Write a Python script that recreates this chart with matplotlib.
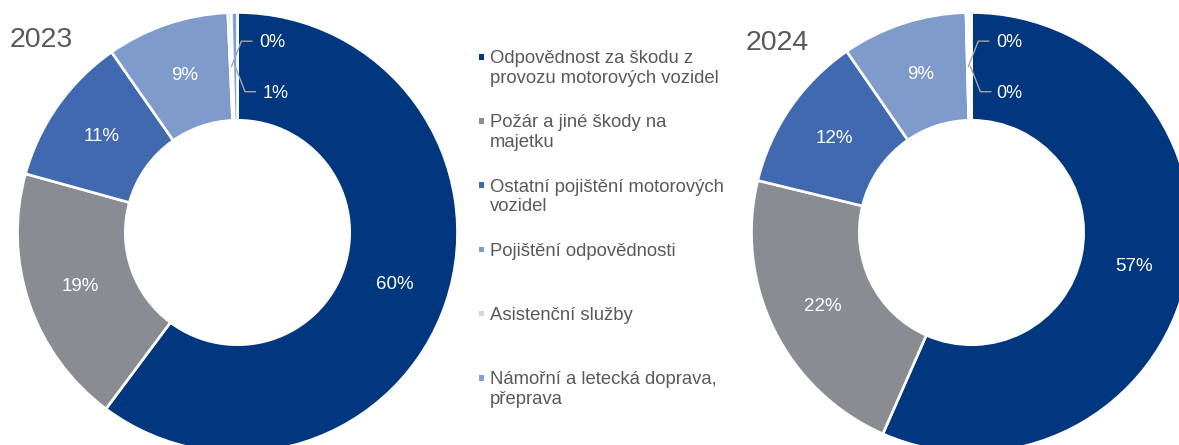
import matplotlib
matplotlib.use("Agg")
import matplotlib.pyplot as plt
import numpy as np
from matplotlib.patches import Rectangle

plt.rcParams['font.family'] = ['Liberation Sans', 'DejaVu Sans']

categories = [
    "Odpovědnost za škodu z\nprovozu motorových vozidel",
    "Požár a jiné škody na\nmajetku",
    "Ostatní pojištění motorových\nvozidel",
    "Pojištění odpovědnosti",
    "Asistenční služby",
    "Námořní a letecká doprava,\npřeprava",
]
colors = ["#00377F", "#898D93", "#4169B0", "#7F9BCC", "#D3D3D3", "#7FA0DA"]

years = ["2023", "2024"]
values_2023 = [60.2, 19.1, 11.0, 9.0, 0.25, 0.45]
values_2024 = [56.6, 22.2, 11.6, 9.2, 0.2, 0.2]
labels_2023 = ["60%", "19%", "11%", "9%", "0%", "1%"]
labels_2024 = ["57%", "22%", "12%", "9%", "0%", "0%"]

W, H = 1179, 445
fig = plt.figure(figsize=(W / 100, H / 100), dpi=100)

LIM = 1.05
R_PX = 220.0


def donut(cx, cy, vals, labs, title, tx, tbase, text_dx_lo):
    size = 2 * LIM * R_PX
    ax = fig.add_axes([(cx - size / 2) / W, (H - cy - size / 2) / H, size / W, size / H])
    wedges, _ = ax.pie(vals, colors=colors, startangle=90, counterclock=False,
                       radius=1.0,
                       wedgeprops=dict(width=0.49, edgecolor="white", linewidth=1.9))
    ax.set_xlim(-LIM, LIM)
    ax.set_ylim(-LIM, LIM)
    ax.set_aspect("equal")
    ax.axis("off")
    rmid = 0.755
    for i, (w, lab) in enumerate(zip(wedges, labs)):
        ang = np.deg2rad((w.theta1 + w.theta2) / 2)
        if i < 4:
            ax.text(rmid * np.cos(ang), rmid * np.sin(ang), lab, color="white",
                    fontsize=13.5, ha="center", va="center")
        else:
            ax0 = rmid * np.cos(ang)
            ay0 = rmid * np.sin(ang)
            sgn = 1 if i == 4 else -1
            ey = ay0 + sgn * 0.115
            ex = ax0 + 0.045
            xs = [ax0, ex, ax0 + 0.092]
            ys = [ay0, ey, ey]
            ax.plot(xs, ys, color="#A6A6A6", lw=1.0, solid_joinstyle="miter")
            tdx = 0.125 if i == 4 else text_dx_lo
            ax.text(ax0 + tdx, ey - 0.008, lab, color="white", fontsize=13,
                    ha="left", va="center")
    fig.text(tx / W, 1 - tbase / H, title, fontsize=20.5, color="#595959",
             ha="left", va="baseline")


donut(237.5, 232.5, values_2023, labels_2023, years[0], 10, 47, 0.125)
donut(971.5, 232.5, values_2024, labels_2024, years[1], 746, 50, 0.115)

# legend
base0 = 63.3
step = 64.2
for i, (cat, col) in enumerate(zip(categories, colors)):
    b = base0 + i * step
    fig.patches.append(Rectangle(((478.5) / W, 1 - (b - 3.8) / H), 5.5 / W, 5.5 / H,
                                 transform=fig.transFigure, facecolor=col,
                                 edgecolor="none"))
    for j, line in enumerate(cat.split("\n")):
        fig.text(490 / W, 1 - (b + j * 19.5) / H, line, fontsize=13.3,
                 color="#595959", ha="left", va="baseline")

fig.savefig("out.png", dpi=100)
